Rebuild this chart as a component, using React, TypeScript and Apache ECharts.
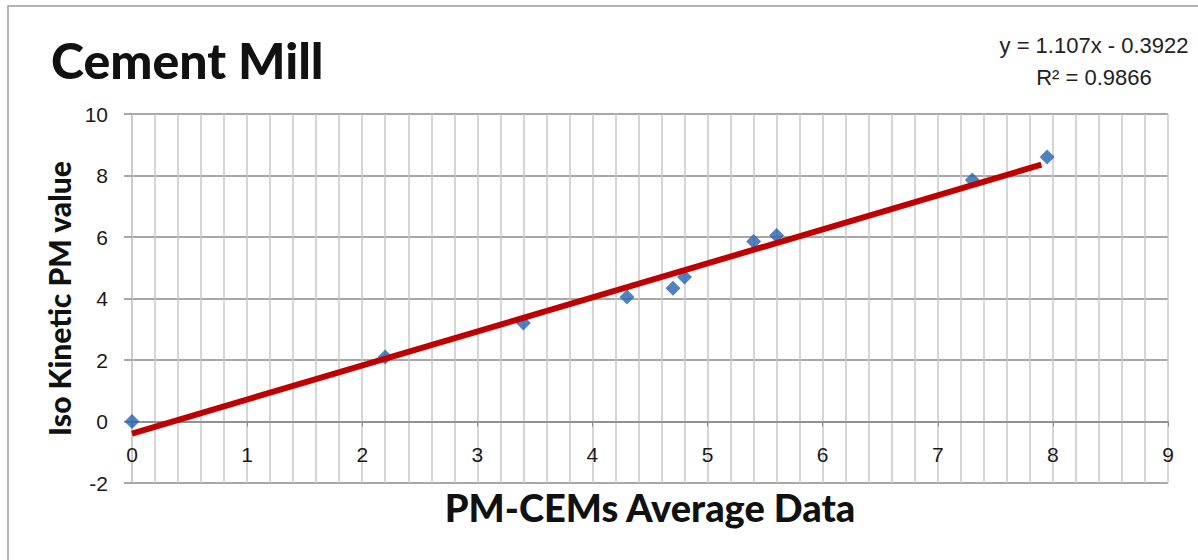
import React, { useEffect, useRef } from "react";
import * as echarts from "echarts";

const chartTitle = "Cement Mill";
const xAxisTitle = "PM-CEMs Average Data";
const yAxisTitle = "Iso Kinetic PM value";
const pmCems = [0, 2.2, 3.4, 4.3, 4.7, 4.8, 5.4, 5.6, 7.3, 7.95];
const isoKinetic = [0, 2.1, 3.2, 4.05, 4.33, 4.7, 5.85, 6.05, 7.85, 8.6];
const trendSlope = 1.107;
const trendIntercept = -0.3922;
const trendXRange = [0, 7.9];
const equationLine = "y = 1.107x - 0.3922";
const r2Line = "R² = 0.9866";

export default function App() {
  const ref = useRef<HTMLDivElement>(null);
  useEffect(() => {
    if (!ref.current) return;
    const chart = echarts.init(ref.current, null, { renderer: "svg" });
    const points = pmCems.map((x, i) => [x, isoKinetic[i]]);
    const trend = trendXRange.map((x) => [x, trendSlope * x + trendIntercept]);
    const tickFont = "'Liberation Sans', 'Open Sans', sans-serif";
    const headFont = "Lato, 'Open Sans', sans-serif";
    chart.setOption({
      animation: false,
      backgroundColor: "#ffffff",
      title: {
        text: chartTitle,
        left: 46,
        top: 30,
        textStyle: {
          fontFamily: headFont,
          fontWeight: 900,
          fontSize: 50,
          color: "#111111",
        },
      },
      graphic: [
        {
          type: "rect",
          shape: { x: 8, y: 6, width: 1300, height: 700 },
          style: { fill: "none", stroke: "#9a9a9a", lineWidth: 1.5 },
          silent: true,
        },
        {
          type: "text",
          x: 1094,
          y: 61,
          style: {
            text: equationLine + "\n" + r2Line,
            fontFamily: tickFont,
            fontSize: 22,
            lineHeight: 32,
            fill: "#222222",
            align: "center",
            verticalAlign: "middle",
          },
        },
      ],
      grid: { left: 132, right: 30, top: 114, bottom: 77, outerBoundsMode: "none" },
      xAxis: {
        type: "value",
        min: 0,
        max: 9,
        interval: 1,
        position: "bottom",
        offset: -61.5,
        name: xAxisTitle,
        nameLocation: "middle",
        nameGap: 66,
        nameTextStyle: {
          fontFamily: headFont,
          fontWeight: 900,
          fontSize: 38,
          color: "#111111",
        },
        axisLine: { onZero: false, lineStyle: { color: "#8a8a8a", width: 1.5 } },
        axisTick: { show: true, length: 5, lineStyle: { color: "#8a8a8a" } },
        axisLabel: {
          margin: 22,
          fontFamily: tickFont,
          fontSize: 21,
          color: "#1a1a1a",
        },
        splitLine: { show: true, lineStyle: { color: "#c9c9c9", width: 1.5 } },
        minorTick: { show: false, splitNumber: 5 },
        minorSplitLine: { show: true, lineStyle: { color: "#c9c9c9", width: 1.5 } },
      },
      yAxis: {
        type: "value",
        min: -2,
        max: 10,
        interval: 2,
        name: yAxisTitle,
        nameLocation: "middle",
        nameRotate: 90,
        nameGap: 56,
        nameTextStyle: {
          fontFamily: headFont,
          fontWeight: 900,
          fontSize: 30,
          color: "#111111",
        },
        axisLine: { show: true, onZero: false, lineStyle: { color: "#c9c9c9", width: 1.5 } },
        axisTick: { show: true, inside: false, length: 8, lineStyle: { color: "#8a8a8a", width: 1.5 } },
        axisLabel: {
          margin: 24,
          fontFamily: tickFont,
          fontSize: 21,
          color: "#1a1a1a",
        },
        splitLine: { show: true, lineStyle: { color: "#8a8a8a", width: 1.5 } },
      },
      series: [
        {
          type: "scatter",
          data: points,
          symbol: "diamond",
          symbolSize: 15,
          itemStyle: { color: "#2563b0" },
          z: 2,
        },
        {
          type: "line",
          data: trend,
          showSymbol: false,
          symbol: "none",
          lineStyle: { color: "#c00000", width: 6 },
          z: 3,
        },
      ],
    });
    return () => chart.dispose();
  }, []);
  return (
    <div
      ref={ref}
      style={{ position: "absolute", left: 0, top: 0, width: 1198, height: 560 }}
    />
  );
}
